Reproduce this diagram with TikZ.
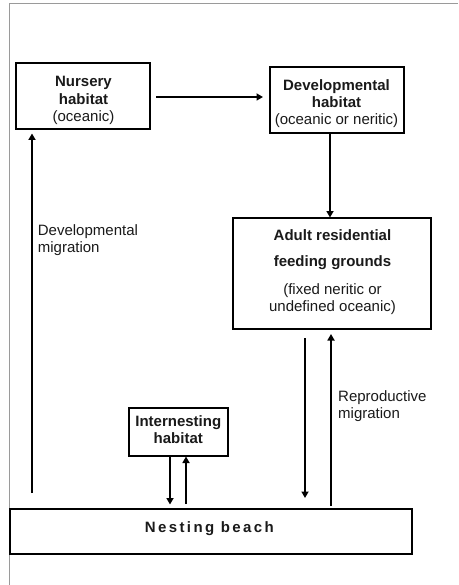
\documentclass[tikz,border=0pt]{standalone}
\usepackage{fontspec}
\setmainfont{Liberation Sans}
\usetikzlibrary{arrows.meta}
\definecolor{txt}{HTML}{1A1A1A}
\definecolor{frame}{HTML}{9A9A9A}
\tikzset{
  box/.style={draw=black, line width=1.8pt, fill=white, inner sep=0pt, anchor=center},
  lbl/.style={inner sep=0pt, text=txt, font=\fontsize{15}{17}\selectfont, align=center},
  side/.style={inner sep=0pt, text=txt, font=\fontsize{15}{17}\selectfont, align=left, anchor=north west},
  arr/.style={line width=2.4pt, -{Triangle[length=6.5pt,width=7pt]}},
}
\begin{document}
\begin{tikzpicture}[x=1pt,y=-1pt]
\useasboundingbox (0,0) rectangle (458,585);
\fill[white] (0,0) rectangle (458,585);
% outer frame
\draw[frame, line width=0.9pt] (9.3,585) -- (9.3,3.5) -- (458,3.5);

% boxes
\node[box, minimum width=134pt, minimum height=66pt] (nur) at (83,96) {};
\node[box, minimum width=134pt, minimum height=66pt] (dev) at (337,100) {};
\node[box, minimum width=198pt, minimum height=111pt] (adu) at (332,273.5) {};
\node[box, minimum width=99pt, minimum height=48pt] (int) at (178.5,432) {};
\node[box, minimum width=402pt, minimum height=45pt] (nes) at (211,531.5) {};

% texts
\node[lbl, anchor=north] (nurt) at (83.5,76) {\textbf{Nursery}\\[0.5pt]\textbf{habitat}\\[0.5pt](oceanic)};
\node[lbl, anchor=north] (devt) at (336.5,79.7) {\textbf{Developmental}\\\textbf{habitat}\\(oceanic or neritic)};
\node[lbl, anchor=north] (adut) at (332.5,229.7) {\textbf{Adult residential}\\[8.5pt]\textbf{feeding grounds}\\[11pt](fixed neritic or\\undefined oceanic)};
\node[lbl, anchor=north] (intt) at (178.3,415) {\textbf{Internesting}\\\textbf{habitat}};
\node[lbl, anchor=base] (nest) at (210.5,532.7) {\addfontfeature{LetterSpace=16}\textbf{Nesting beach}};

\node[side] (devm) at (37.7,224) {Developmental\\migration};
\node[side] (repm) at (338,390.7) {Reproductive\\migration};

% connector end points
\coordinate (a1) at (156,97);
\coordinate (a2) at (263,97);
\draw[arr] (a1) -- (a2);

\coordinate (b1) at (330,133);
\coordinate (b2) at (330,217.5);
\draw[arr] (b1) -- (b2);

\coordinate (c1) at (305,338);
\coordinate (c2) at (305,498);
\draw[arr] (c1) -- (c2);

\coordinate (d1) at (331,506);
\coordinate (d2) at (331,334);
\draw[arr] (d1) -- (d2);

\coordinate (e1) at (32,493);
\coordinate (e2) at (32,133.5);
\draw[arr] (e1) -- (e2);

\coordinate (f1) at (170,456);
\coordinate (f2) at (170,504.5);
\draw[arr] (f1) -- (f2);

\coordinate (g1) at (186,504);
\coordinate (g2) at (186,456.5);
\draw[arr] (g1) -- (g2);
\end{tikzpicture}
\end{document}
